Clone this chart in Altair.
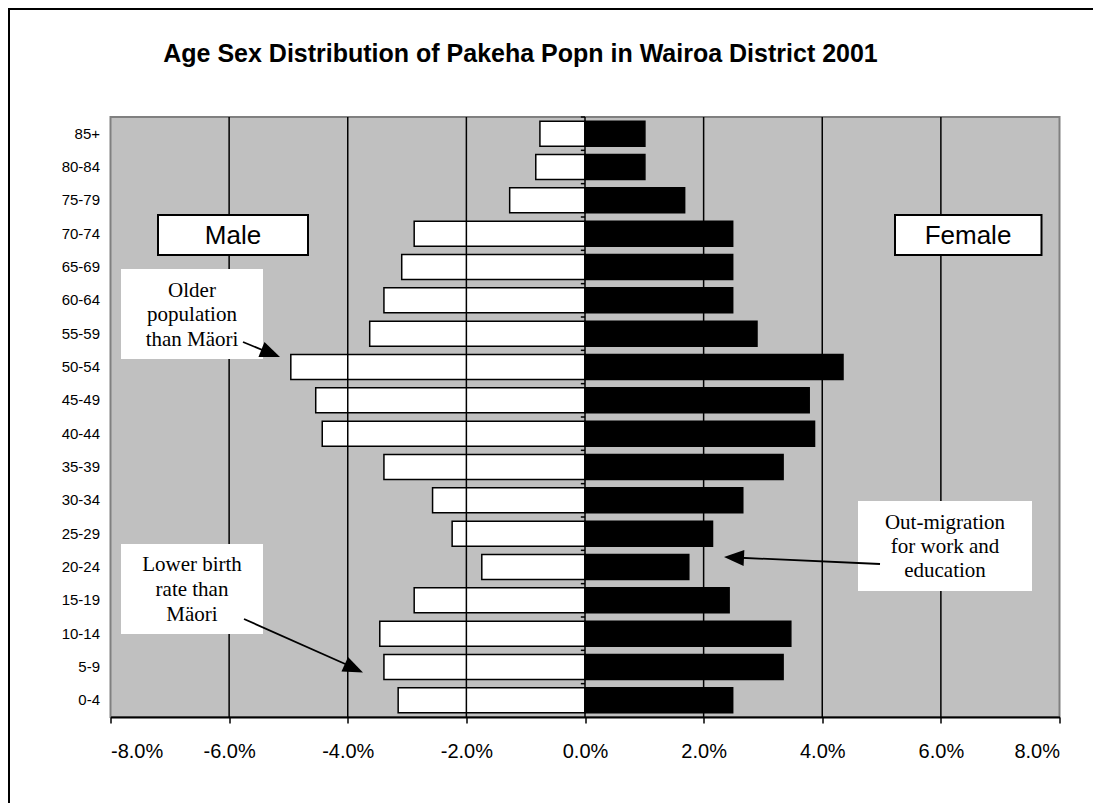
import altair as alt
import pandas as pd

# ---- data ----
ages = ["85+", "80-84", "75-79", "70-74", "65-69", "60-64", "55-59", "50-54", "45-49",
        "40-44", "35-39", "30-34", "25-29", "20-24", "15-19", "10-14", "5-9", "0-4"]
male = [0.76, 0.83, 1.27, 2.88, 3.09, 3.39, 3.63, 4.96, 4.54,
        4.43, 3.39, 2.57, 2.24, 1.74, 2.88, 3.46, 3.39, 3.15]
female = [1.01, 1.01, 1.68, 2.49, 2.49, 2.49, 2.90, 4.35, 3.78,
          3.87, 3.34, 2.66, 2.15, 1.75, 2.43, 3.47, 3.34, 2.49]
x_ticks = [-8, -6, -4, -2, 0, 2, 4, 6, 8]

rows = []
for a, m, f in zip(ages, male, female):
    rows.append({"age": a, "sex": "Male", "pct": -m})
    rows.append({"age": a, "sex": "Female", "pct": f})
df = pd.DataFrame(rows)
cats = pd.DataFrame({"age": ages})
grid_df = pd.DataFrame({"v": x_ticks[1:-1]})
one = pd.DataFrame({"k": [0]})

SANS = "Liberation Sans"
SERIF = "Liberation Serif"

W, H = 949, 600

xscale = alt.Scale(domain=[-8, 8], nice=False, zero=False)
yscale = alt.Scale(paddingInner=0.25, paddingOuter=0.125)

bars = alt.Chart(df).mark_bar(stroke="black", strokeWidth=1.5).encode(
    x=alt.X("pct:Q", scale=xscale,
            axis=alt.Axis(values=x_ticks, title=None, grid=False, domainColor="black", domainWidth=2,
                          tickColor="black", tickSize=6, tickWidth=1.5,
                          labelFont=SANS, labelFontSize=20, labelColor="black",
                          labelPadding=18,
                          labelExpr="(datum.value < 0 ? '-' : '') + format(abs(datum.value), '.1f') + '%'")),
    y=alt.Y("age:N", sort=ages, scale=yscale,
            axis=alt.Axis(title=None, domain=False, ticks=False, grid=False,
                          labelFont=SANS, labelFontSize=15, labelColor="black",
                          labelPadding=11)),
    color=alt.Color("sex:N", scale=alt.Scale(domain=["Male", "Female"], range=["white", "black"]),
                    legend=None),
)

# vertical gridlines drawn above the bars (visible through the white bars)
grid = alt.Chart(grid_df).mark_rule(color="black", strokeWidth=1.5).encode(
    x=alt.X("v:Q", scale=xscale),
)

# small category ticks on the zero axis
cat_ticks = alt.Chart(cats).mark_rule(color="black", strokeWidth=1.5, yOffset=-H / 36).encode(
    y=alt.Y("age:N", sort=ages, scale=yscale),
    x=alt.datum(0),
    x2=alt.datum(-0.07),
)

OX, OY = 110.5, 117  # plot origin on the page


def rect(x1, y1, x2, y2, stroke=True, sw=2, fill="white"):
    kw = dict(fill=fill)
    if stroke:
        kw.update(stroke="black", strokeWidth=sw)
    return alt.Chart(one).mark_rect(**kw).encode(
        x=alt.value(x1 - OX), x2=alt.value(x2 - OX),
        y=alt.value(y1 - OY), y2=alt.value(y2 - OY))


def label(txt, cx, cy, font, size, weight="normal"):
    return alt.Chart(one).mark_text(text=txt, font=font, fontSize=size, fontWeight=weight,
                                    align="center", baseline="middle", color="black").encode(
        x=alt.value(cx - OX), y=alt.value(cy - OY))


def line(x1, y1, x2, y2, sw=1.8):
    return alt.Chart(one).mark_rule(color="black", strokeWidth=sw).encode(
        x=alt.value(x1 - OX), x2=alt.value(x2 - OX),
        y=alt.value(y1 - OY), y2=alt.value(y2 - OY))


HEAD = "M0,0L-0.4,1L0.4,1Z"


def head(x, y, ang):
    return alt.Chart(one).mark_point(shape=HEAD, filled=True, fill="black", color="black",
                                     opacity=1, size=1600, angle=ang, strokeWidth=0).encode(
        x=alt.value(x - OX), y=alt.value(y - OY))


layers = [
    bars,
    grid,
    cat_ticks,
    # outer border of the chart (top and left edges visible in the reference)
    rect(8, 8, 1300, 10, stroke=False, fill="black"),
    rect(8, 8, 10, 1000, stroke=False, fill="black"),
    # title
    alt.Chart(one).mark_text(text="Age Sex Distribution of Pakeha Popn in Wairoa District 2001",
                             font=SANS, fontSize=25, fontWeight="bold", align="center",
                             baseline="alphabetic", color="black").encode(
        x=alt.value(520.5 - OX), y=alt.value(62 - OY)),
    # Male / Female boxes
    rect(158, 215, 308, 255),
    label("Male", 233, 236, SANS, 26),
    rect(895, 215, 1041.5, 255),
    label("Female", 968, 236, SANS, 26),
    # Older population box
    rect(121, 269, 263, 359, stroke=False),
    label("Older", 192, 291, SERIF, 21),
    label("population", 192, 315, SERIF, 21),
    label("than Mäori", 192, 340, SERIF, 21),
    line(243, 342, 272, 354),
    head(280, 357, 112.1),
    # Lower birth rate box
    rect(121, 544, 263, 634, stroke=False),
    label("Lower birth", 192, 565, SERIF, 21),
    label("rate than", 192, 590, SERIF, 21),
    label("Mäori", 192, 615, SERIF, 21),
    line(244, 619, 352, 667),
    head(363, 672.5, 114.2),
    # Out-migration box
    rect(858, 501, 1032, 591, stroke=False),
    label("Out-migration", 945, 522.5, SERIF, 21),
    label("for work and", 945, 546.5, SERIF, 21),
    label("education", 945, 571, SERIF, 21),
    line(880, 564, 735, 557.5),
    head(724, 557, 272.6),
]

chart = alt.layer(*layers).properties(
    width=W, height=H,
    autosize=alt.AutoSizeParams(type="none"),
    padding={"left": 102.5, "top": 109, "right": 33, "bottom": 86},
    background="white",
).configure_view(fill="#c0c0c0", stroke="#808080", strokeWidth=2)

chart.save("out.html", embed_options={"renderer": "svg", "actions": False})
